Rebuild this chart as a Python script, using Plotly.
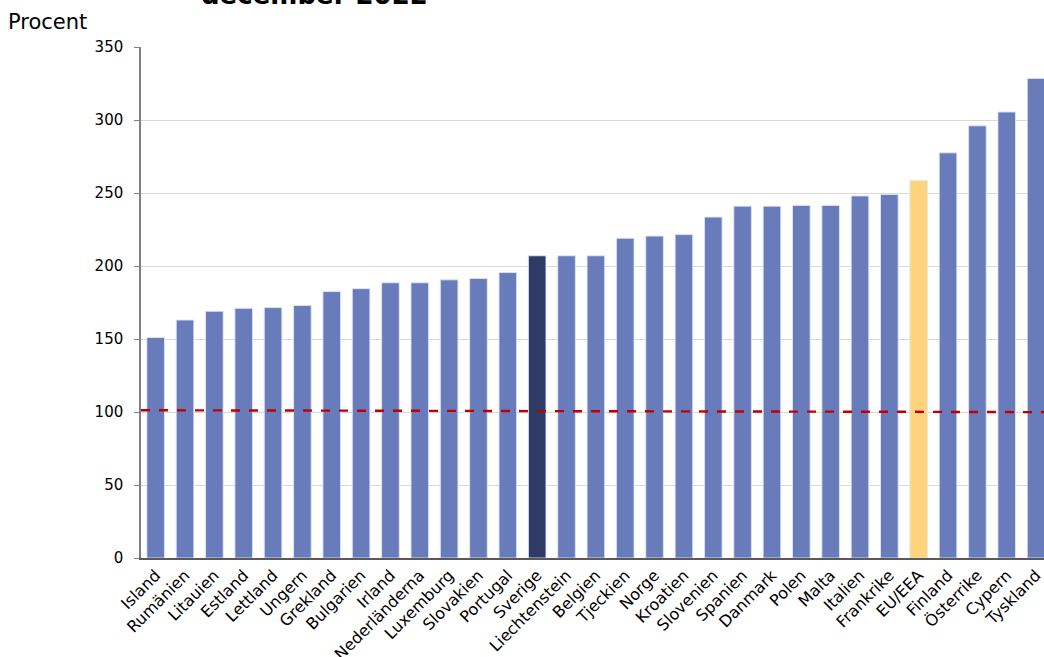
import plotly.graph_objects as go

categories = ["Island", "Rumänien", "Litauien", "Estland", "Lettland", "Ungern", "Grekland",
              "Bulgarien", "Irland", "Nederländerna", "Luxemburg", "Slovakien", "Portugal",
              "Sverige", "Liechtenstein", "Belgien", "Tjeckien", "Norge", "Kroatien",
              "Slovenien", "Spanien", "Danmark", "Polen", "Malta", "Italien", "Frankrike",
              "EU/EEA", "Finland", "Österrike", "Cypern", "Tyskland"]
values = [151, 163, 169, 171, 171.5, 173, 182.5, 184.5, 188.5, 188.5, 190.5, 191.5, 195.5,
          207, 207, 207, 219, 220.5, 221.5, 233.5, 241, 241, 241.5, 241.5, 248, 249,
          258.5, 277.5, 296, 305.5, 328.5]
reference_line = [101.2, 101.2, 101.1, 101.1, 101.0, 101.0, 100.9, 100.9, 100.8, 100.8,
                  100.8, 100.7, 100.7, 100.6, 100.6, 100.6, 100.5, 100.5, 100.4, 100.4,
                  100.4, 100.3, 100.3, 100.2, 100.2, 100.1, 100.1, 100.0, 100.0, 99.9, 99.9]

highlight = {"Sverige": "#2E3B67", "EU/EEA": "#FDD47A"}
base_color = "#687BBB"
bar_colors = [highlight.get(c, base_color) for c in categories]

n = len(categories)
xpos = list(range(n))
# line spans edge to edge of category area
line_x = [-0.5 + i * n / (n - 1) for i in range(n)]

fig = go.Figure()
fig.add_trace(go.Bar(
    x=xpos, y=values, width=0.6,
    marker=dict(color=bar_colors, line=dict(color="rgba(225,228,245,0.9)", width=1)),
    showlegend=False,
))
fig.add_trace(go.Scatter(
    x=line_x, y=reference_line, mode="lines",
    line=dict(color="#C00000", width=2.4, dash="dash"),
    showlegend=False,
))

font_family = "DejaVu Sans"
fig.update_layout(
    width=1044, height=657,
    margin=dict(l=141, r=0, t=47, b=99, autoexpand=False),
    paper_bgcolor="white", plot_bgcolor="white",
    font=dict(family=font_family, size=15, color="#000000"),
    bargap=0.4,
    xaxis=dict(
        tickmode="array", tickvals=xpos, ticktext=categories,
        range=[-0.5, 30.27], tickangle=-45, showgrid=False,
        showline=True, linecolor="#595959", linewidth=1.5, ticks="",
        tickfont=dict(size=16, family=font_family),
        ticklabeloverflow="allow", automargin=False,
    ),
    yaxis=dict(
        range=[0, 350], tickvals=[0, 50, 100, 150, 200, 250, 300, 350],
        showgrid=True, gridcolor="#D9D9D9", gridwidth=1,
        showline=True, linecolor="#808080", linewidth=1.5,
        ticks="outside", ticklen=5, tickcolor="#808080",
        ticklabelstandoff=8, automargin=False,
        tickfont=dict(size=15, family=font_family), zeroline=False,
    ),
    annotations=[
        dict(text="Procent", xref="paper", yref="paper", x=-0.149, y=1.048,
             xanchor="left", yanchor="middle", showarrow=False,
             font=dict(size=21, family=font_family, color="#000000")),
        dict(text="<b>december 2022</b>", xref="paper", yref="paper", x=0.1916, y=1.102,
             xanchor="center", yanchor="middle", showarrow=False,
             font=dict(size=26, family=font_family, color="#000000")),
    ],
)

fig.write_html("out.html")
